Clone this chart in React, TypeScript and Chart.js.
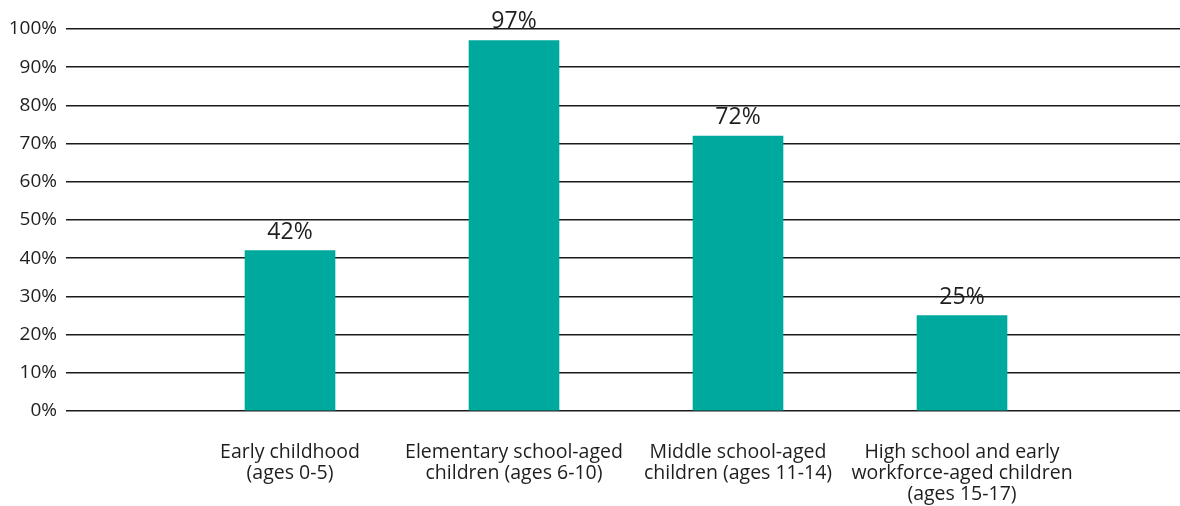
import React, { useEffect, useRef } from "react";
import { Chart, registerables } from "chart.js";

Chart.register(...registerables);

const categories: (string | string[])[] = [
  "",
  ["Early childhood", "(ages 0-5)"],
  ["Elementary school-aged", "children (ages 6-10)"],
  ["Middle school-aged", "children (ages 11-14)"],
  ["High school and early", "workforce-aged children", "(ages 15-17)"],
  "",
];
const values: (number | null)[] = [null, 42, 97, 72, 25, null];
const yTickValues = [0, 10, 20, 30, 40, 50, 60, 70, 80, 90, 100];

const FONT = "'Open Sans', 'Noto Sans', sans-serif";
const TEAL = "#00A99D";
const TEXT = "#1e1e1e";

const valueLabels = {
  id: "valueLabels",
  afterDatasetsDraw(chart: any) {
    const ctx = chart.ctx;
    const meta = chart.getDatasetMeta(0);
    ctx.save();
    ctx.font = `23px ${FONT}`;
    ctx.fillStyle = TEXT;
    ctx.textAlign = "center";
    ctx.textBaseline = "alphabetic";
    meta.data.forEach((bar: any, i: number) => {
      const v = values[i];
      if (v == null) return;
      ctx.fillText(`${v}%`, bar.x, bar.y - 12);
    });
    ctx.restore();
  },
};

export default function App() {
  const ref = useRef<HTMLCanvasElement | null>(null);
  useEffect(() => {
    if (!ref.current) return;
    const chart = new Chart(ref.current, {
      type: "bar",
      data: {
        labels: categories,
        datasets: [
          {
            data: values,
            backgroundColor: TEAL,
            borderWidth: 0,
            barThickness: 90,
          },
        ],
      },
      options: {
        animation: false,
        responsive: false,
        maintainAspectRatio: false,
        devicePixelRatio: 1,
        layout: { padding: { left: 8, top: 29, right: 0, bottom: 0 } },
        plugins: { legend: { display: false }, tooltip: { enabled: false } },
        scales: {
          x: {
            type: "category",
            offset: false,
            grid: { display: false, drawTicks: false },
            border: { display: false },
            ticks: {
              autoSkip: false,
              maxRotation: 0,
              minRotation: 0,
              padding: 31,
              color: TEXT,
              font: { family: FONT, size: 19.5, lineHeight: "21px" },
            },
            afterFit: (s: any) => {
              s.height = 95;
              s.paddingLeft = 0;
              s.paddingRight = 0;
            },
          },
          y: {
            min: 0,
            max: 100,
            afterBuildTicks: (s: any) => {
              s.ticks = yTickValues.map((v) => ({ value: v }));
            },
            grid: { color: "#1a1a1a", lineWidth: 1.5, drawTicks: false },
            border: { display: false },
            ticks: {
              padding: 9,
              color: TEXT,
              font: { family: FONT, size: 19 },
              callback: (v: any) => `${v}%`,
            },
            afterFit: (s: any) => {
              s.width = 58;
            },
          },
        },
      },
      plugins: [valueLabels],
    });
    return () => chart.destroy();
  }, []);
  return (
    <div
      style={{
        position: "fixed",
        left: 0,
        top: 0,
        width: 1180,
        height: 506,
        overflow: "hidden",
        background: "#fff",
      }}
    >
      <canvas
        ref={ref}
        width={1186}
        height={506}
        style={{ display: "block", width: 1186, height: 506 }}
      />
    </div>
  );
}
